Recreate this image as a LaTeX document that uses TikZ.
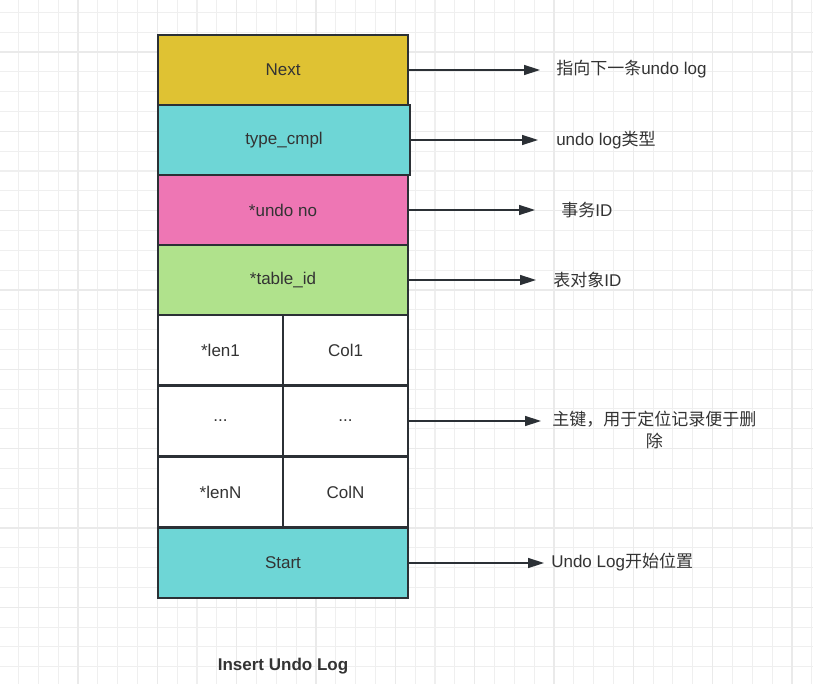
\documentclass[tikz,border=0pt]{standalone}
\usepackage{fontspec}
\setmainfont{Liberation Sans}
\newfontfamily\cjk{Noto Sans CJK SC}
\usetikzlibrary{arrows.meta}
\definecolor{lineC}{HTML}{2B3035}
\definecolor{textC}{HTML}{333333}
\definecolor{gridMinor}{HTML}{EFEFEF}
\definecolor{gridMajor}{HTML}{EAEAEA}
\definecolor{nextFill}{HTML}{DFC233}
\definecolor{typeFill}{HTML}{6ED6D6}
\definecolor{undoFill}{HTML}{EE76B4}
\definecolor{tableFill}{HTML}{B0E28C}

\begin{document}
\begin{tikzpicture}[x=0.75pt, y=-0.75pt,
        every node/.style={font=\fontsize{12.75}{16}\selectfont, text=textC}]
        \tikzstyle{fieldStyle} = [rectangle, draw=lineC, line width=1.3pt,
            minimum width=187.5pt, minimum height=52.5pt, inner sep=0]
        \tikzstyle{halfStyle} = [fieldStyle, minimum width=93.75pt]
        \tikzstyle{labelStyle} = [anchor=west, inner sep=0]
        \tikzstyle{arrowStyle} = [draw=lineC, line width=1.1pt,
            -{Triangle[length=12pt,width=7.5pt]}]
        \useasboundingbox (0,0) rectangle (813,684);
        \fill[white] (0,0) rectangle (813,684);
        \foreach \i in {0,...,41}
            \draw[gridMinor, line width=0.8pt] ({-1.3+19.83*\i},0) -- ++(0,684);
        \foreach \i in {0,...,35}
            \draw[gridMinor, line width=0.8pt] (0,{-7.5+19.83*\i}) -- ++(813,0);
        \foreach \i in {0,...,9}
            \draw[gridMajor, line width=0.8pt] ({78+79.33*\i},0) -- ++(0,684);
        \foreach \i in {0,...,8}
            \draw[gridMajor, line width=0.8pt] (0,{-27.3+79.33*\i}) -- ++(813,0);
        \node[fieldStyle, fill=nextFill] (next) at (283,70) {Next};
        \node[fieldStyle, fill=typeFill, minimum width=189pt] (type) at (284,140) {type\_cmpl};
        \node[fieldStyle, fill=undoFill] (undo) at (283,210) {*undo no};
        \node[fieldStyle, fill=tableFill] (table) at (283,280) {*table\_id};
        \node[halfStyle, fill=white] (len1) at (220.5,350) {*len1};
        \node[halfStyle, fill=white] (col1) at (345.5,350) {Col1};
        \node[halfStyle, fill=white] (dotsL) at (220.5,421) {...};
        \node[halfStyle, fill=white] (dotsR) at (345.5,421) {...};
        \node[halfStyle, fill=white] (lenN) at (220.5,492) {*lenN};
        \node[halfStyle, fill=white] (colN) at (345.5,492) {ColN};
        \node[fieldStyle, fill=typeFill] (start) at (283,563) {Start};
        \node[labelStyle] (nextLbl) at (556,69) {{\cjk 指向下一条}undo log};
        \node[labelStyle] (typeLbl) at (556,140) {undo log{\cjk 类型}};
        \node[labelStyle] (undoLbl) at (561,210) {{\cjk 事务}ID};
        \node[labelStyle] (tableLbl) at (553,280) {{\cjk 表对象}ID};
        \node[labelStyle, align=center] (keyLbl) at (552,430)
            {\cjk 主键，用于定位记录便于删\\\cjk 除};
        \node[labelStyle] (startLbl) at (551,562) {Undo Log{\cjk 开始位置}};
        \node[font=\fontsize{12.75}{16}\selectfont\bfseries] (title) at (283,666) {Insert Undo Log};
        \foreach \from/\to/\gap in {next/nextLbl/12pt, type/typeLbl/13.5pt,
                                undo/undoLbl/19.5pt, table/tableLbl/12.75pt,
                                dotsR/keyLbl/8.25pt, start/startLbl/5.25pt}
            \draw[arrowStyle, shorten >=\gap] (\from.east) -- (\from.east -| \to.west);
    \end{tikzpicture}
\end{document}
